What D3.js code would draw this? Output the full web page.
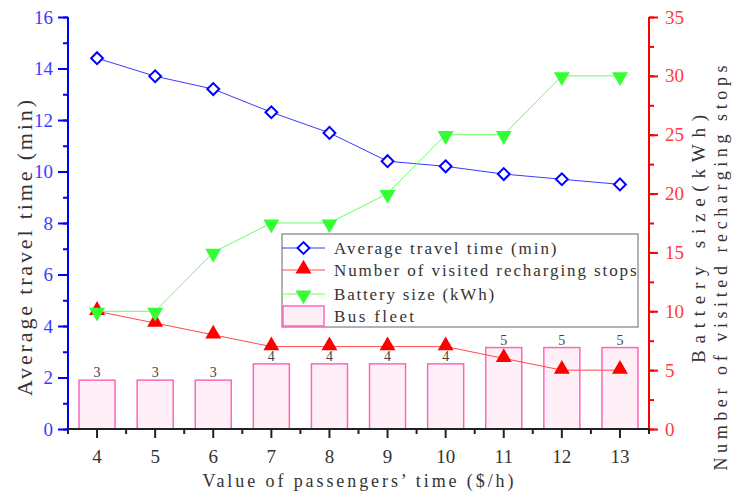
<!DOCTYPE html>
<html>
<head>
<meta charset="utf-8">
<script src="https://cdn.jsdelivr.net/npm/d3@7"></script>
<style>
  body { margin: 0; background: #fff; }
  .axis text { font-family: "Liberation Serif", serif; font-size: 19px; }
  .ttl { font-family: "Liberation Serif", "DejaVu Serif", serif; }
</style>
</head>
<body>
<svg id="chart" width="732" height="493"></svg>
<script>
var categories = ['4', '5', '6', '7', '8', '9', '10', '11', '12', '13'];
var travelTime = [14.4, 13.7, 13.2, 12.3, 11.5, 10.4, 10.2, 9.9, 9.7, 9.5];
var stops = [10, 9, 8, 7, 7, 7, 7, 6, 5, 5];
var battery = [10, 10, 15, 17.5, 17.5, 20, 25, 25, 30, 30];
var fleet = [3, 3, 3, 4, 4, 4, 4, 5, 5, 5];
var leftTicks = [0, 2, 4, 6, 8, 10, 12, 14, 16];
var rightTicks = [0, 5, 10, 15, 20, 25, 30, 35];
var legendLabels = ['Average travel time (min)', 'Number of visited recharging stops', 'Battery size (kWh)', 'Bus fleet'];

var pLeft = 68, pRight = 649, pTop = 17, pBottom = 429;

var svg = d3.select('#chart');

var x = d3.scaleBand().domain(categories).range([pLeft, pRight]).padding(0);
var yL = d3.scaleLinear().domain([0, 16]).range([pBottom, pTop]);
var yR = d3.scaleLinear().domain([0, 35]).range([pBottom, pTop]);
var yBar = d3.scaleLinear().domain([0, 25.3]).range([pBottom, pTop]);
var cx = function(i) { return x(categories[i]) + x.bandwidth() / 2; };

// bars
var barW = x.bandwidth() * 0.62;
svg.append('g').selectAll('rect').data(fleet).enter().append('rect')
    .attr('x', function(d, i) { return cx(i) - barW / 2; })
    .attr('y', function(d) { return yBar(d); })
    .attr('width', barW)
    .attr('height', function(d) { return pBottom - yBar(d); })
    .style('fill', '#fff0f7')
    .style('stroke', '#ff66b8')
    .style('stroke-width', 1.5);
svg.append('g').selectAll('text').data(fleet).enter().append('text')
    .attr('x', function(d, i) { return cx(i); })
    .attr('y', function(d) { return yBar(d) - 3; })
    .attr('text-anchor', 'middle')
    .style('font-family', '"Liberation Serif", serif').style('font-size', '14px')
    .style('fill', '#444')
    .text(function(d) { return d; });

// left axis
var gL = svg.append('g').attr('class', 'axis').attr('transform', 'translate(' + pLeft + ',0)');
gL.append('g').call(d3.axisLeft(yL).tickValues(d3.range(0, 17, 1)).tickSize(5).tickFormat(''));
gL.append('g').call(d3.axisLeft(yL).tickValues(leftTicks).tickSize(10).tickPadding(5).tickFormat(d3.format('d')));
gL.selectAll('path, line').style('stroke', '#0000ff').style('stroke-width', 2);
gL.selectAll('.domain').attr('d', 'M0,' + pBottom + 'V' + pTop);
gL.selectAll('text').style('fill', '#3b3bff');

// right axis
var gR = svg.append('g').attr('class', 'axis').attr('transform', 'translate(' + pRight + ',0)');
gR.append('g').call(d3.axisRight(yR).tickValues(d3.range(0, 36, 2.5)).tickSize(5).tickFormat(''));
gR.append('g').call(d3.axisRight(yR).tickValues(rightTicks).tickSize(9).tickPadding(7).tickFormat(d3.format('d')));
gR.selectAll('path, line').style('stroke', '#ff0000').style('stroke-width', 2);
gR.selectAll('.domain').attr('d', 'M0,' + pBottom + 'V' + pTop);
gR.selectAll('text').style('fill', '#ff3b3b');

// bottom axis: minor ticks on band edges, major ticks at centres
var gB = svg.append('g').attr('class', 'axis').attr('transform', 'translate(0,' + pBottom + ')');
gB.append('path').attr('d', 'M' + (pLeft - 1) + ',0H' + pRight);
var bounds = categories.map(function(c) { return x(c); }).concat([pRight]);
gB.selectAll('.minor').data(bounds).enter().append('line').attr('class', 'minor')
    .attr('x1', function(d) { return d; }).attr('x2', function(d) { return d; })
    .attr('y1', 0).attr('y2', 5);
var gB2 = gB.append('g').call(d3.axisBottom(x).tickSize(9).tickPadding(12).tickSizeOuter(0));
gB2.select('.domain').remove();
gB.selectAll('path, line').style('stroke', '#222').style('stroke-width', 2);
gB2.selectAll('text').style('fill', '#333');

// axis titles
svg.append('text').attr('class', 'ttl').attr('transform', 'translate(32,' + ((pTop + pBottom) / 2 + 25) + ') rotate(-90)')
    .attr('text-anchor', 'middle').attr('textLength', 296).attr('lengthAdjust', 'spacing')
    .style('font-size', '22px').style('fill', '#333').text('Average travel time (min)');
svg.append('text').attr('class', 'ttl').attr('transform', 'translate(705,239) rotate(-90)')
    .attr('text-anchor', 'middle').attr('textLength', 248).attr('lengthAdjust', 'spacing')
    .style('font-size', '19px').style('fill', '#333').text('Battery size(kWh)');
svg.append('text').attr('class', 'ttl').attr('transform', 'translate(727,268) rotate(-90)')
    .attr('text-anchor', 'middle').attr('textLength', 405).attr('lengthAdjust', 'spacing')
    .style('font-size', '18px').style('fill', '#333').text('Number of visited recharging stops');
svg.append('text').attr('class', 'ttl').attr('x', 358).attr('y', 487)
    .attr('text-anchor', 'middle').attr('textLength', 311).attr('lengthAdjust', 'spacing')
    .style('font-size', '18px').style('fill', '#333').text('Value of passengers\u2019 time ($/h)');

// series
var diamond = d3.symbol().type(d3.symbolSquare).size(70);
var tri = d3.symbol().type(d3.symbolTriangle).size(110);

function drawLine(values, y, color) {
    svg.append('path').datum(values)
        .attr('d', d3.line().x(function(d, i) { return cx(i); }).y(function(d) { return y(d); }))
        .style('fill', 'none').style('stroke', color).style('stroke-width', 1);
}
drawLine(travelTime, yL, '#3a3aff');
drawLine(stops, yR, '#ff4a4a');
drawLine(battery, yR, '#66ff66');

svg.append('g').selectAll('path').data(travelTime).enter().append('path')
    .attr('d', diamond)
    .attr('transform', function(d, i) { return 'translate(' + cx(i) + ',' + yL(d) + ') rotate(45)'; })
    .style('fill', '#fff').style('stroke', '#0000ff').style('stroke-width', 2);
svg.append('g').selectAll('path').data(stops).enter().append('path')
    .attr('d', tri)
    .attr('transform', function(d, i) { return 'translate(' + cx(i) + ',' + (yR(d) - 1) + ')'; })
    .style('fill', '#ff0000');
svg.append('g').selectAll('path').data(battery).enter().append('path')
    .attr('d', tri)
    .attr('transform', function(d, i) { return 'translate(' + cx(i) + ',' + (yR(d) + 1) + ') rotate(180)'; })
    .style('fill', '#33ff33');

// legend
var lg = svg.append('g').attr('transform', 'translate(282,234)');
lg.append('rect').attr('width', 356).attr('height', 93)
    .style('fill', 'none').style('stroke', '#666').style('stroke-width', 1);
var rowY = [14, 36, 60, 82];
var lineColors = ['#3a3aff', '#ff4a4a', '#66ff66'];
lineColors.forEach(function(c, i) {
    lg.append('line').attr('x1', 0).attr('x2', 43).attr('y1', rowY[i]).attr('y2', rowY[i])
        .style('stroke', c).style('stroke-width', 1);
});
lg.append('path').attr('d', diamond).attr('transform', 'translate(21.5,' + rowY[0] + ') rotate(45)')
    .style('fill', '#fff').style('stroke', '#0000ff').style('stroke-width', 2);
lg.append('path').attr('d', tri).attr('transform', 'translate(21.5,' + (rowY[1] - 1) + ')')
    .style('fill', '#ff0000');
lg.append('path').attr('d', tri).attr('transform', 'translate(21.5,' + (rowY[2] + 1) + ') rotate(180)')
    .style('fill', '#33ff33');
lg.append('rect').attr('x', 1).attr('y', rowY[3] - 10).attr('width', 41).attr('height', 20)
    .style('fill', '#fff0f7').style('stroke', '#ff66b8').style('stroke-width', 1.5);
lg.selectAll('.lt').data(legendLabels).enter().append('text').attr('class', 'lt ttl')
    .attr('x', 52).attr('y', function(d, i) { return rowY[i] + 6; })
    .attr('textLength', function(d) { return d.length * 8.9; }).attr('lengthAdjust', 'spacing')
    .style('font-size', '17px').style('fill', '#333')
    .text(function(d) { return d; });
</script>
</body>
</html>
